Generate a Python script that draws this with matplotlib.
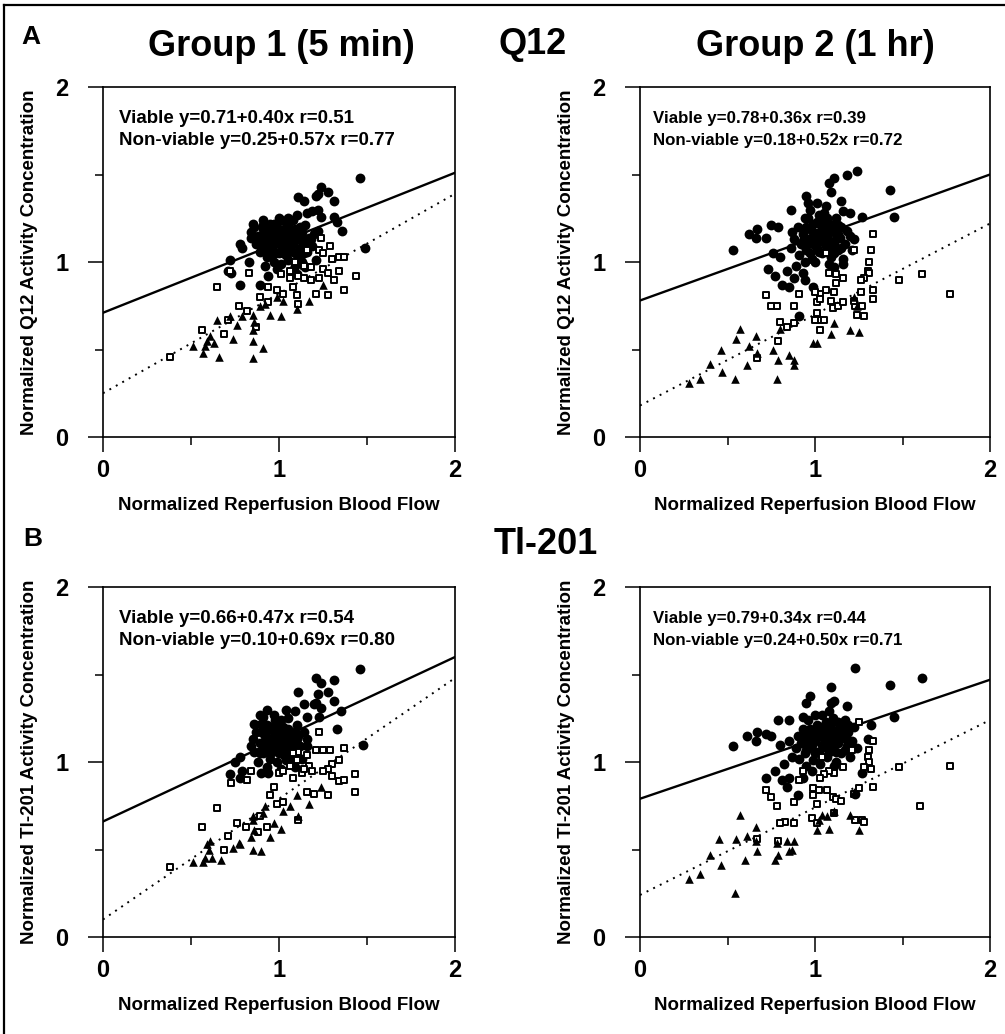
import numpy as np
import matplotlib.pyplot as plt
from matplotlib.lines import Line2D

plt.rcParams['font.family'] = ['Liberation Sans', 'DejaVu Sans']
plt.rcParams['font.weight'] = 'bold'

# -----------------------------------------------------------------------------
# Data (x = normalized reperfusion flow, y = activity)
# -----------------------------------------------------------------------------

# Q12, group 1 (5 min)
q12_g1_viable = [
    (1.46, 1.48), (1.24, 1.43), (1.28, 1.40), (1.21, 1.38), (1.22, 1.39), (1.11, 1.37),
    (1.14, 1.35), (1.31, 1.35), (1.22, 1.30), (1.19, 1.29), (1.16, 1.28), (1.10, 1.27),
    (1.05, 1.25), (1.01, 1.24), (1.31, 1.26), (1.33, 1.23), (1.36, 1.18), (1.24, 1.26),
    (0.85, 1.22), (0.84, 1.17), (0.91, 1.21), (0.78, 1.10), (0.79, 1.08), (0.72, 1.01),
    (0.71, 0.95), (0.73, 0.94), (0.78, 0.87), (0.89, 0.87), (1.49, 1.08), (1.21, 1.01),
    (0.94, 0.92), (1.10, 0.93), (0.83, 1.00), (1.22, 1.18), (1.18, 1.13),
    (0.86, 1.20), (0.88, 1.15), (0.90, 1.10), (0.92, 1.18), (0.94, 1.13), (0.95, 1.22),
    (0.96, 1.08), (0.97, 1.16), (0.98, 1.11), (0.99, 1.20), (1.00, 1.05), (1.01, 1.14),
    (1.02, 1.09), (1.03, 1.18), (1.04, 1.12), (1.05, 1.22), (1.06, 1.07), (1.07, 1.15),
    (1.08, 1.10), (1.09, 1.19), (1.10, 1.04), (1.11, 1.13), (1.12, 1.08), (1.13, 1.17),
    (1.14, 1.11), (1.15, 1.21), (1.16, 1.06), (1.17, 1.14), (0.89, 1.06), (0.93, 1.03),
    (0.97, 1.00), (1.01, 0.99), (1.05, 1.01), (1.09, 0.98), (1.13, 1.00), (0.91, 1.24),
    (1.00, 1.25), (1.08, 1.24), (0.87, 1.10), (0.95, 1.17), (1.03, 1.13), (1.11, 1.18),
    (1.19, 1.09), (1.20, 1.16), (0.84, 1.14), (0.99, 0.96), (1.07, 0.95), (1.15, 0.97),
    (0.92, 0.98), (1.04, 1.04), (1.12, 1.03), (0.96, 1.12), (1.06, 1.19), (0.93, 1.08),
    (0.98, 1.05), (1.02, 1.16), (1.07, 1.10), (1.12, 1.14), (0.94, 1.20), (1.00, 1.10),
    (0.90, 1.14), (0.92, 1.07), (0.94, 1.16), (0.96, 1.04), (0.98, 1.18), (1.00, 1.13),
    (1.02, 1.05), (1.04, 1.20), (1.06, 1.14), (1.08, 1.06), (1.10, 1.16), (1.12, 1.20),
    (1.14, 1.05), (0.91, 1.19), (0.97, 1.22), (1.03, 1.08), (1.09, 1.13), (1.15, 1.13),
    (0.95, 1.11), (1.01, 1.18),
]
q12_g1_nv_square = [
    (1.29, 1.09), (1.23, 1.07), (1.25, 1.05), (1.30, 1.02), (1.34, 1.03), (1.37, 1.03),
    (1.34, 0.95), (1.25, 0.96), (1.28, 0.94), (1.31, 0.90), (1.44, 0.92), (1.37, 0.84),
    (1.28, 0.81), (1.21, 0.82), (1.18, 0.90), (1.14, 0.91), (1.11, 0.92), (1.08, 0.86),
    (1.02, 0.82), (0.99, 0.84), (0.94, 0.86), (0.89, 0.80), (0.94, 0.77), (1.10, 0.81),
    (1.11, 0.76), (0.77, 0.75), (0.82, 0.72), (0.71, 0.67), (0.87, 0.63), (0.69, 0.59),
    (0.56, 0.61), (0.38, 0.46), (0.65, 0.86), (0.83, 0.94), (1.18, 0.97), (1.14, 0.98),
    (1.06, 0.95), (1.09, 1.00), (1.24, 1.14), (1.16, 1.07), (0.72, 0.95), (1.01, 0.93),
    (1.06, 0.91), (1.23, 0.91),
]
q12_g1_nv_triangle = [
    (0.65, 0.67), (0.72, 0.69), (0.76, 0.64), (0.79, 0.69), (0.85, 0.70), (0.86, 0.66),
    (0.85, 0.61), (0.74, 0.56), (0.85, 0.55), (0.91, 0.51), (0.85, 0.45), (0.66, 0.46),
    (0.57, 0.48), (0.51, 0.52), (0.59, 0.55), (0.61, 0.58), (0.63, 0.54), (0.58, 0.52),
    (0.95, 0.70), (1.01, 0.69), (0.89, 0.75), (0.92, 0.76), (1.10, 0.73), (1.17, 0.78),
    (1.25, 0.87), (1.02, 0.78), (0.99, 0.80),
]
q12_g1_fit_viable = (0.71, 0.40, 0.51)      # intercept, slope, r
q12_g1_fit_nonviable = (0.25, 0.57, 0.77)

# Q12, group 2 (1 hr)
q12_g2_viable = [
    (1.24, 1.52), (1.18, 1.50), (1.11, 1.48), (1.08, 1.45), (1.09, 1.40), (1.43, 1.41),
    (1.45, 1.26), (1.15, 1.35), (0.95, 1.38), (0.96, 1.34), (0.86, 1.30), (1.01, 1.34),
    (0.53, 1.07), (0.62, 1.16), (0.67, 1.19), (0.66, 1.14), (0.72, 1.14), (0.75, 1.21),
    (0.79, 1.20), (0.73, 0.96), (0.77, 0.92), (0.81, 0.87), (0.85, 0.86), (0.84, 0.95),
    (0.88, 0.91), (0.93, 0.94), (0.99, 0.86), (1.16, 1.29), (1.20, 1.28), (1.27, 1.26),
    (1.22, 1.13), (1.21, 1.07), (1.16, 0.99), (1.11, 0.97), (0.76, 1.05), (0.80, 1.03),
    (0.94, 0.90), (0.91, 0.69),
    (0.86, 1.08), (0.88, 1.13), (0.90, 1.20), (0.91, 1.04), (0.92, 1.10), (0.93, 1.16),
    (0.94, 1.25), (0.95, 1.07), (0.96, 1.13), (0.97, 1.19), (0.98, 1.02), (0.99, 1.10),
    (1.00, 1.16), (1.01, 1.23), (1.02, 1.06), (1.03, 1.12), (1.04, 1.19), (1.05, 1.28),
    (1.06, 1.09), (1.07, 1.15), (1.08, 1.22), (1.09, 1.03), (1.10, 1.11), (1.11, 1.17),
    (1.12, 1.25), (1.13, 1.07), (1.14, 1.14), (1.15, 1.20), (1.17, 1.10), (1.18, 1.18),
    (0.89, 0.98), (0.97, 1.30), (1.06, 1.32), (1.00, 1.00), (1.08, 0.99), (1.16, 1.02),
    (0.94, 1.00), (1.02, 1.27), (0.87, 1.17), (1.20, 1.15), (1.04, 1.05), (0.99, 1.22),
    (1.11, 1.05), (1.07, 1.25), (0.98, 1.14), (1.03, 1.17), (1.08, 1.12), (1.13, 1.21),
    (0.93, 1.12), (0.95, 1.20), (0.97, 1.05), (0.99, 1.17), (1.01, 1.08), (1.03, 1.22),
    (1.05, 1.13), (1.07, 1.06), (1.09, 1.18), (1.11, 1.10), (1.13, 1.16), (1.15, 1.08),
    (0.96, 1.25), (1.04, 1.24), (1.10, 1.21), (1.00, 1.12), (1.06, 1.17), (1.12, 1.13),
    (0.94, 1.09), (1.08, 1.09),
]
q12_g2_nv_square = [
    (1.33, 1.16), (1.32, 1.07), (1.31, 1.00), (1.30, 0.95), (1.31, 0.94), (1.28, 0.91),
    (1.26, 0.90), (1.33, 0.84), (1.33, 0.79), (1.28, 0.69), (1.24, 0.70), (1.48, 0.90),
    (1.61, 0.93), (1.77, 0.82), (1.08, 0.94), (1.12, 0.93), (1.16, 0.91), (1.12, 0.88),
    (1.11, 0.83), (1.06, 0.84), (1.03, 0.82), (1.00, 0.83), (1.01, 0.77), (1.03, 0.79),
    (1.09, 0.78), (1.10, 0.74), (1.13, 0.75), (1.16, 0.77), (1.23, 0.75), (1.27, 0.75),
    (1.22, 0.78), (1.26, 0.83), (1.01, 0.71), (1.03, 0.67), (1.00, 0.67), (1.05, 0.67),
    (1.03, 0.61), (0.91, 0.82), (0.88, 0.75), (0.78, 0.75), (0.75, 0.75), (0.72, 0.81),
    (0.80, 0.66), (0.84, 0.63), (0.88, 0.65), (0.79, 0.55), (0.67, 0.45), (1.06, 1.05),
    (1.22, 1.07),
]
q12_g2_nv_triangle = [
    (0.57, 0.62), (0.55, 0.56), (0.66, 0.58), (0.46, 0.50), (0.62, 0.52), (0.67, 0.48),
    (0.40, 0.42), (0.47, 0.37), (0.54, 0.33), (0.61, 0.41), (0.34, 0.33), (0.28, 0.31),
    (0.76, 0.50), (0.79, 0.44), (0.78, 0.33), (0.85, 0.47), (0.88, 0.44), (0.88, 0.41),
    (0.80, 0.62), (0.99, 0.54), (1.01, 0.54), (1.09, 0.59), (1.11, 0.65), (1.20, 0.61),
    (1.25, 0.60), (1.22, 0.80), (1.24, 0.75),
]
q12_g2_fit_viable = (0.78, 0.36, 0.39)
q12_g2_fit_nonviable = (0.18, 0.52, 0.72)

# Tl-201, group 1 (5 min)
tl_g1_viable = [
    (1.46, 1.53), (1.21, 1.48), (1.24, 1.45), (1.31, 1.47), (1.28, 1.40), (1.22, 1.39),
    (1.31, 1.35), (1.11, 1.40), (1.14, 1.33), (1.20, 1.33), (1.21, 1.34), (1.24, 1.31),
    (1.35, 1.29), (1.33, 1.19), (1.48, 1.10), (0.93, 1.30), (0.89, 1.27), (0.86, 1.22),
    (0.85, 1.13), (0.84, 1.09), (0.78, 1.03), (0.75, 1.00), (0.79, 0.95), (0.72, 0.93),
    (0.78, 0.91), (0.90, 0.94), (0.94, 0.94), (1.04, 1.30), (1.09, 1.29), (1.16, 1.26),
    (1.23, 1.26), (1.16, 1.13), (1.16, 1.09),
    (0.87, 1.17), (0.89, 1.11), (0.90, 1.22), (0.91, 1.05), (0.92, 1.15), (0.93, 1.09),
    (0.94, 1.19), (0.95, 1.02), (0.96, 1.13), (0.97, 1.07), (0.98, 1.24), (0.99, 1.00),
    (1.00, 1.16), (1.01, 1.10), (1.02, 1.20), (1.03, 1.04), (1.04, 1.13), (1.05, 1.08),
    (1.06, 1.17), (1.07, 0.99), (1.08, 1.11), (1.09, 1.05), (1.10, 1.21), (1.11, 1.15),
    (1.12, 1.09), (1.13, 1.02), (0.88, 1.00), (0.93, 0.97), (0.97, 1.27), (1.01, 0.96),
    (1.05, 1.25), (1.09, 0.97), (0.95, 1.09), (0.99, 1.14), (1.03, 1.18), (1.07, 1.12),
    (0.91, 1.26), (0.86, 1.06), (1.14, 1.17), (1.00, 1.05), (0.96, 1.20), (1.04, 1.01),
    (0.98, 1.17), (1.02, 1.12), (1.06, 1.06), (0.94, 1.12), (1.08, 1.16), (1.00, 1.21),
    (0.90, 1.17), (0.92, 1.08), (0.94, 1.14), (0.96, 1.06), (0.98, 1.12), (1.00, 1.09),
    (1.02, 1.15), (1.04, 1.06), (1.06, 1.12), (1.08, 1.07), (1.10, 1.13), (0.93, 1.21),
    (0.97, 1.17), (1.01, 1.24), (1.05, 1.19), (1.09, 1.17), (0.89, 1.05), (1.03, 1.09),
    (0.95, 1.05), (1.07, 1.03),
]
tl_g1_nv_square = [
    (1.23, 1.17), (1.21, 1.07), (1.25, 1.07), (1.29, 1.07), (1.37, 1.08), (1.34, 1.01),
    (1.30, 0.99), (1.28, 0.96), (1.25, 0.95), (1.17, 0.98), (1.19, 0.95), (1.13, 0.94),
    (1.08, 0.91), (1.10, 1.01), (1.16, 1.04), (1.11, 1.06), (1.08, 1.05), (1.00, 0.94),
    (1.02, 0.95), (0.84, 0.95), (0.82, 0.90), (0.73, 0.88), (0.97, 0.86), (1.30, 0.92),
    (1.34, 0.89), (1.37, 0.90), (1.43, 0.93), (1.43, 0.83), (1.28, 0.81), (1.20, 0.82),
    (1.16, 0.83), (0.95, 0.81), (0.99, 0.76), (1.02, 0.77), (0.65, 0.74), (0.76, 0.65),
    (0.81, 0.63), (0.89, 0.69), (0.93, 0.63), (0.88, 0.60), (0.71, 0.58), (0.69, 0.50),
    (0.56, 0.63), (0.38, 0.40), (1.11, 0.67), (1.06, 0.98), (1.14, 0.96),
]
tl_g1_nv_triangle = [
    (1.24, 0.86), (1.17, 0.76), (1.10, 0.81), (1.06, 0.75), (1.02, 0.72), (0.92, 0.75),
    (0.91, 0.71), (0.85, 0.67), (0.86, 0.61), (0.97, 0.65), (1.01, 0.62), (0.95, 0.57),
    (0.84, 0.57), (0.85, 0.50), (0.90, 0.49), (0.77, 0.54), (0.74, 0.51), (0.61, 0.55),
    (0.59, 0.53), (0.60, 0.50), (0.58, 0.45), (0.57, 0.43), (0.62, 0.45), (0.67, 0.44),
    (0.51, 0.43), (0.78, 0.53), (1.11, 0.69), (0.85, 0.69),
]
tl_g1_fit_viable = (0.66, 0.47, 0.54)
tl_g1_fit_nonviable = (0.10, 0.69, 0.80)

# Tl-201, group 2 (1 hr)
tl_g2_viable = [
    (1.23, 1.54), (1.61, 1.48), (1.43, 1.44), (1.09, 1.43), (0.97, 1.38), (0.95, 1.34),
    (1.09, 1.34), (1.11, 1.35), (1.18, 1.32), (1.45, 1.26), (1.32, 1.21), (0.79, 1.24),
    (0.85, 1.24), (0.53, 1.09), (0.61, 1.15), (0.67, 1.17), (0.66, 1.12), (0.72, 1.16),
    (0.75, 1.15), (0.80, 1.10), (0.85, 1.12), (0.72, 0.91), (0.81, 0.90), (0.84, 0.86),
    (0.85, 0.91), (0.90, 0.81), (0.93, 0.91), (0.98, 0.95), (0.77, 0.95), (0.82, 0.99),
    (1.27, 0.94), (1.30, 1.13), (1.23, 0.82),
    (0.89, 1.08), (0.90, 1.15), (0.91, 1.02), (0.92, 1.11), (0.93, 1.19), (0.94, 1.05),
    (0.95, 1.13), (0.96, 1.24), (0.97, 1.08), (0.98, 1.17), (0.99, 1.01), (1.00, 1.12),
    (1.01, 1.21), (1.02, 1.06), (1.03, 1.15), (1.04, 1.27), (1.05, 1.09), (1.06, 1.18),
    (1.07, 1.03), (1.08, 1.13), (1.09, 1.22), (1.10, 1.07), (1.11, 1.16), (1.12, 1.00),
    (1.13, 1.11), (1.14, 1.20), (1.15, 1.05), (1.16, 1.14), (1.17, 1.24), (1.18, 1.09),
    (1.19, 1.17), (1.20, 1.03), (1.21, 1.12), (1.22, 1.20), (0.95, 0.98), (1.03, 0.99),
    (1.11, 0.98), (1.00, 1.27), (1.08, 1.29), (0.93, 1.26), (1.24, 1.08), (0.98, 1.10),
    (1.06, 1.12), (1.14, 1.14), (1.02, 1.19), (1.10, 1.25), (0.87, 1.03), (1.04, 1.10),
    (1.12, 1.18), (0.96, 1.16), (1.08, 1.06), (1.18, 1.13), (1.00, 1.05),
    (0.93, 1.14), (0.95, 1.07), (0.97, 1.19), (0.99, 1.13), (1.01, 1.06), (1.03, 1.20),
    (1.05, 1.14), (1.07, 1.08), (1.09, 1.17), (1.11, 1.10), (1.13, 1.23), (1.15, 1.15),
    (1.17, 1.07), (1.19, 1.21), (1.00, 1.17), (1.06, 1.23), (1.12, 1.06), (1.16, 1.19),
    (0.96, 1.11), (1.10, 1.14),
]
tl_g2_nv_square = [
    (1.25, 1.23), (1.33, 1.12), (1.31, 1.07), (1.30, 1.03), (1.31, 1.00), (1.28, 0.97),
    (1.32, 0.96), (1.33, 0.86), (1.25, 0.85), (1.22, 0.82), (1.77, 0.98), (1.60, 0.75),
    (1.48, 0.97), (1.16, 0.97), (1.11, 0.94), (1.08, 0.95), (1.05, 0.93), (1.03, 0.91),
    (0.93, 0.95), (0.91, 0.90), (0.99, 0.85), (1.02, 0.84), (1.07, 0.84), (0.99, 0.81),
    (1.01, 0.76), (1.10, 0.80), (1.12, 0.79), (1.15, 0.78), (0.88, 0.77), (0.78, 0.75),
    (0.72, 0.84), (0.75, 0.80), (0.88, 0.65), (0.83, 0.66), (0.80, 0.65), (0.79, 0.55),
    (0.67, 0.56), (0.98, 0.68), (1.01, 0.65), (1.27, 0.67), (1.28, 0.66), (1.23, 0.67),
    (1.11, 0.71), (1.21, 1.07), (1.04, 1.03),
]
tl_g2_nv_triangle = [
    (0.57, 0.70), (0.66, 0.63), (0.61, 0.58), (0.66, 0.55), (0.55, 0.56), (0.45, 0.56),
    (0.40, 0.47), (0.46, 0.41), (0.60, 0.44), (0.67, 0.49), (0.34, 0.36), (0.28, 0.33),
    (0.54, 0.25), (0.77, 0.44), (0.79, 0.47), (0.85, 0.49), (0.87, 0.50), (0.84, 0.55),
    (0.88, 0.55), (0.78, 0.54), (1.01, 0.61), (1.04, 0.70), (1.08, 0.62), (1.20, 0.70),
    (1.25, 0.61), (1.22, 0.83), (1.02, 0.67), (1.07, 0.69), (1.11, 0.72),
]
tl_g2_fit_viable = (0.79, 0.34, 0.44)
tl_g2_fit_nonviable = (0.24, 0.50, 0.71)

axis_ticks = [0, 1, 2]
axis_minor = [0.5, 1.5]

W, H = 1005, 1034


def px(x, y):
    """pixel position (from top-left) -> figure fraction"""
    return x / W, 1 - y / H


def draw_panel(rect, viable, nv_square, nv_tri, fit_v, fit_nv, ylabel, eq_size, eq_x):
    ax = fig.add_axes(rect)
    xs = np.array([0.0, 2.0])
    ax.plot(xs, fit_v[0] + fit_v[1] * xs, color='black', lw=1.7, zorder=2)
    ax.plot(xs, fit_nv[0] + fit_nv[1] * xs, color='black', lw=1.4,
            ls=(0, (1, 2.8)), zorder=2)

    v = np.array(viable)
    ax.scatter(v[:, 0], v[:, 1], s=50, marker='o', c='black', lw=0, zorder=3)
    sq = np.array(nv_square)
    ax.scatter(sq[:, 0], sq[:, 1], s=23, marker='s', facecolor='white',
               edgecolor='black', lw=1.4, zorder=4)
    tr = np.array(nv_tri)
    ax.scatter(tr[:, 0], tr[:, 1], s=38, marker='^', c='black', lw=0, zorder=5)

    ax.set_xlim(0, 2)
    ax.set_ylim(0, 2)
    ax.set_xticks(axis_ticks)
    ax.set_yticks(axis_ticks)
    ax.set_xticks(axis_minor, minor=True)
    ax.set_yticks(axis_minor, minor=True)
    ax.tick_params(which='major', direction='out', length=11, width=1.1,
                   labelsize=17)
    ax.tick_params(which='minor', direction='out', length=5.5, width=1.1)
    ax.tick_params(axis='x', which='major', pad=5)
    ax.tick_params(axis='y', which='major', pad=14)
    for s in ax.spines.values():
        s.set_linewidth(1.2)

    ax.set_xlabel('Normalized Reperfusion Blood Flow', fontsize=13.5, fontweight='bold')
    ax.xaxis.set_label_coords(0.5, -0.17)
    ax.set_ylabel(ylabel, fontsize=13.5, fontweight='bold')
    ax.yaxis.set_label_coords(-0.185, 0.5)

    ax.text(eq_x, 0.911, f"Viable y={fit_v[0]:.2f}+{fit_v[1]:.2f}x r={fit_v[2]:.2f}",
            transform=ax.transAxes, fontsize=eq_size, fontweight='bold',
            va='center', ha='left')
    ax.text(eq_x, 0.846, f"Non-viable y={fit_nv[0]:.2f}+{fit_nv[1]:.2f}x r={fit_nv[2]:.2f}",
            transform=ax.transAxes, fontsize=eq_size, fontweight='bold',
            va='center', ha='left')
    return ax


fig = plt.figure(figsize=(W / 100, H / 100), dpi=100)

left_l, left_r = 103 / W, 640 / W
width_l, width_r = 352 / W, 350 / W
bot_top, bot_bot = 1 - 437 / H, 1 - 937 / H
height = 350 / H

draw_panel([left_l, bot_top, width_l, height], q12_g1_viable, q12_g1_nv_square,
           q12_g1_nv_triangle, q12_g1_fit_viable, q12_g1_fit_nonviable,
           'Normalized Q12 Activity Concentration', 13.5, 0.045)
draw_panel([left_r, bot_top, width_r, height], q12_g2_viable, q12_g2_nv_square,
           q12_g2_nv_triangle, q12_g2_fit_viable, q12_g2_fit_nonviable,
           'Normalized Q12 Activity Concentration', 12.2, 0.037)
draw_panel([left_l, bot_bot, width_l, height], tl_g1_viable, tl_g1_nv_square,
           tl_g1_nv_triangle, tl_g1_fit_viable, tl_g1_fit_nonviable,
           'Normalized Tl-201 Activity Concentration', 13.5, 0.045)
draw_panel([left_r, bot_bot, width_r, height], tl_g2_viable, tl_g2_nv_square,
           tl_g2_nv_triangle, tl_g2_fit_viable, tl_g2_fit_nonviable,
           'Normalized Tl-201 Activity Concentration', 12.2, 0.037)

# headings
fig.text(*px(281, 47), 'Group 1 (5 min)', fontsize=26, fontweight='bold', ha='center', va='center')
fig.text(*px(815, 47), 'Group 2 (1 hr)', fontsize=26, fontweight='bold', ha='center', va='center')
fig.text(*px(533, 44), 'Q12', fontsize=26, fontweight='bold', ha='center', va='center')
fig.text(*px(546, 545), 'Tl-201', fontsize=26, fontweight='bold', ha='center', va='center')
fig.text(*px(31, 37), 'A', fontsize=19, fontweight='bold', ha='center', va='center')
fig.text(*px(33, 539), 'B', fontsize=19, fontweight='bold', ha='center', va='center')

# frame around the figure (top and left edges as in the scan)
fig.add_artist(Line2D([4 / W, 1.0], [1 - 5 / H, 1 - 5 / H], color='black', lw=1.6))
fig.add_artist(Line2D([4 / W, 4 / W], [0.0, 1 - 5 / H], color='black', lw=1.6))

fig.savefig('out.png', dpi=100)
